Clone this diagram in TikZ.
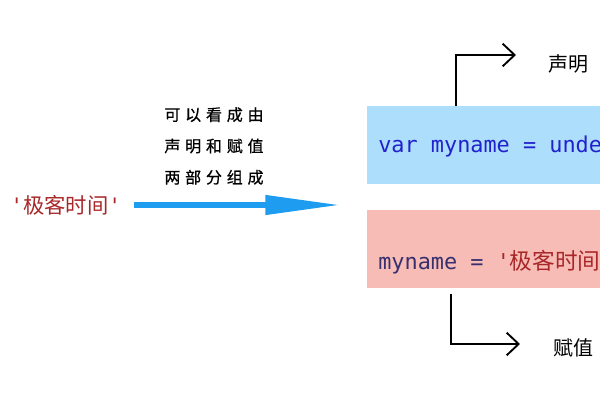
\documentclass[tikz,border=0pt]{standalone}
\usepackage{fontspec}
\setmonofont{DejaVu Sans Mono}
\newfontfamily\cjk{Noto Sans CJK SC}
\newfontfamily\hand[LetterSpace=30, FakeBold=0.6]{Noto Sans CJK SC}
\usetikzlibrary{arrows.meta, positioning, calc, decorations.pathmorphing}
\definecolor{myred}{RGB}{168,40,42}
\definecolor{myblue}{RGB}{34,34,204}
\definecolor{mydark}{RGB}{54,48,110}
\definecolor{arrowblue}{RGB}{30,156,239}
\definecolor{declfill}{RGB}{173,222,252}
\definecolor{assignfill}{RGB}{248,188,183}
\tikzset{
  codebox/.style={rectangle, draw=none, minimum width=240pt,
    minimum height=58.5pt, anchor=north west, inner sep=0pt},
  codetext/.style={anchor=west, inner sep=0pt, font=\fontsize{16.4pt}{18pt}\selectfont},
  redlabel/.style={anchor=west, inner sep=0pt, text=myred,
    font=\fontsize{16pt}{18pt}\selectfont},
  note/.style={align=center, inner sep=0pt,
    font=\fontsize{12pt}{23.5pt}\selectfont\hand},
  sidelabel/.style={anchor=west, inner sep=0pt,
    font=\fontsize{15pt}{17pt}\selectfont\cjk},
  bigarrow/.style={-{Triangle[length=56pt, width=14pt]}, line width=4pt, color=arrowblue},
  handline/.style={-{Straight Barb[length=9pt, width=17pt, line width=1.4pt]},
    line width=1.4pt, black},
}
\begin{document}
\begin{tikzpicture}[x=0.75pt, y=-0.75pt]
  \useasboundingbox (0,0) rectangle (600,400);
  \clip (0,0) rectangle (600,400);

  \node[redlabel] (src) at (10,205) {{\ttfamily'}\cjk 极客时间{\ttfamily'}};
  \coordinate (tip) at (340,205);
  \draw[bigarrow] ($(src.east)+(12,0)$) -- (tip);
  \node[note] (split) at (214,146) {可以看成由\\声明和赋值\\两部分组成};

  \node[codebox, fill=declfill] (decl) at (367,106) {};
  \node[codebox, fill=assignfill] (assign) at (367,210) {};
  \node[codetext, text=myblue] (decltext) at (378,146) {\ttfamily var myname = undefined};
  \node[codetext] (assigntext) at (378,262)
    {\color{mydark}\ttfamily myname = \color{myred}'{\fontsize{17pt}{18pt}\selectfont\cjk 极客时间}'};

  \coordinate (declend) at (516,55);
  \coordinate (assignend) at (520,344);
  \draw[handline] ($(decl.north west)+(89,0)$) |- (declend);
  \draw[handline] ($(assign.south west)+(84,5)$) |- (assignend);
  \node[sidelabel] (decllabel) at (548,64) {声明};
  \node[sidelabel] (assignlabel) at (553,348) {赋值};
\end{tikzpicture}
\end{document}
